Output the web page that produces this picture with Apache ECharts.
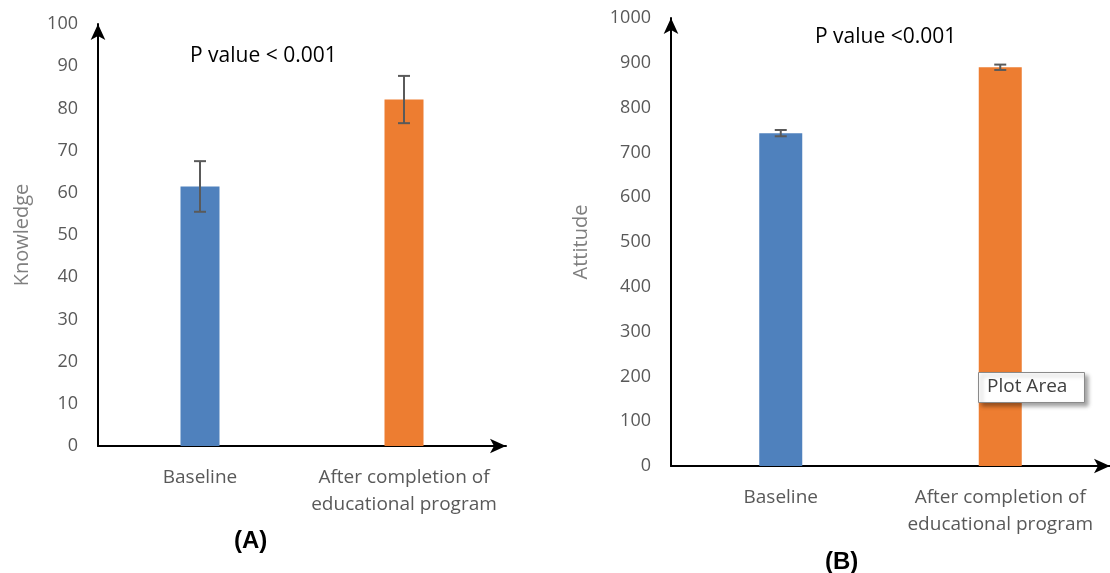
<!DOCTYPE html>
<html>
<head>
<meta charset="utf-8">
<script src="https://cdn.jsdelivr.net/npm/echarts@6/dist/echarts.min.js"></script>
<style>
  html, body { margin: 0; padding: 0; background: #fff; }
  #chart { width: 1110px; height: 573px; }
</style>
</head>
<body>
<div id="chart"></div>
<script>
// Categories shared by both panels
const categories = ['Baseline', 'After completion of\neducational program'];

// Panel A: knowledge scores (mean and error)
const knowledgeMeans = [61.5, 82.1];
const knowledgeErrors = [6.0, 5.6];
const knowledgeTicks = { min: 0, max: 100, interval: 10 };

// Panel B: attitude scores (mean and error)
const attitudeMeans = [743, 890];
const attitudeErrors = [7, 6];
const attitudeTicks = { min: 0, max: 1000, interval: 100 };

const barColors = ['#4f81bd', '#ed7d31'];
const FONT = 'Open Sans';
const GREY = '#595959';

function errorData(means, errs) {
  return means.map((m, i) => [i, m - errs[i], m + errs[i]]);
}

function renderError(params, api) {
  const x = api.value(0);
  const lo = api.coord([x, api.value(1)]);
  const hi = api.coord([x, api.value(2)]);
  const half = 6;
  const style = { stroke: '#5a5a5a', lineWidth: 2 };
  return {
    type: 'group',
    children: [
      { type: 'line', shape: { x1: hi[0], y1: hi[1], x2: lo[0], y2: lo[1] }, style },
      { type: 'line', shape: { x1: hi[0] - half, y1: hi[1], x2: hi[0] + half, y2: hi[1] }, style },
      { type: 'line', shape: { x1: lo[0] - half, y1: lo[1], x2: lo[0] + half, y2: lo[1] }, style }
    ]
  };
}

function xAxisFor(gridIndex) {
  return {
    type: 'category',
    gridIndex,
    data: categories,
    axisLine: { show: true, symbol: ['none', 'arrow'], symbolSize: [11, 16], lineStyle: { color: '#000', width: 2 } },
    axisTick: { show: false },
    axisLabel: { color: GREY, fontFamily: FONT, fontSize: 19, lineHeight: 27, margin: 18, interval: 0 }
  };
}

function yAxisFor(gridIndex, ticks, name, nameGap) {
  return {
    type: 'value',
    gridIndex,
    min: ticks.min, max: ticks.max, interval: ticks.interval,
    name, nameLocation: 'middle', nameGap,
    nameTextStyle: { color: '#7f7f7f', fontFamily: FONT, fontSize: 20 },
    axisLine: { show: true, symbol: ['none', 'arrow'], symbolSize: [11, 16], lineStyle: { color: '#000', width: 2 } },
    axisTick: { show: false },
    splitLine: { show: false },
    axisLabel: { color: GREY, fontFamily: FONT, fontSize: 18, margin: 20, formatter: v => String(v) }
  };
}

const chart = echarts.init(document.getElementById('chart'), null, { renderer: 'canvas' });

chart.setOption({
  animation: false,
  backgroundColor: '#fff',
  title: [
    { text: 'P value < 0.001', left: 185, top: 41, textStyle: { fontFamily: FONT, fontSize: 21, fontWeight: 'normal', color: '#000' } },
    { text: 'P value <0.001', left: 810, top: 22, textStyle: { fontFamily: FONT, fontSize: 21, fontWeight: 'normal', color: '#000' } },
    { text: '(A)', left: 229, top: 524, textStyle: { fontFamily: 'Liberation Sans', fontSize: 24, fontWeight: 'bold', color: '#000' } },
    { text: '(B)', left: 820, top: 545, textStyle: { fontFamily: 'Liberation Sans', fontSize: 24, fontWeight: 'bold', color: '#000' } }
  ],
  grid: [
    { left: 98, top: 24, width: 408, height: 422 },
    { left: 671, top: 18, width: 446, height: 448 }
  ],
  xAxis: [xAxisFor(0), xAxisFor(1)],
  yAxis: [
    yAxisFor(0, knowledgeTicks, 'Knowledge', 66),
    yAxisFor(1, attitudeTicks, 'Attitude', 80)
  ],
  series: [
    {
      type: 'bar', xAxisIndex: 0, yAxisIndex: 0, barWidth: 39,
      data: knowledgeMeans.map((v, i) => ({ value: v, itemStyle: { color: barColors[i] } }))
    },
    {
      type: 'custom', xAxisIndex: 0, yAxisIndex: 0, z: 5,
      data: errorData(knowledgeMeans, knowledgeErrors), renderItem: renderError
    },
    {
      type: 'bar', xAxisIndex: 1, yAxisIndex: 1, barWidth: 43,
      data: attitudeMeans.map((v, i) => ({ value: v, itemStyle: { color: barColors[i] } }))
    },
    {
      type: 'custom', xAxisIndex: 1, yAxisIndex: 1, z: 5,
      data: errorData(attitudeMeans, attitudeErrors), renderItem: renderError
    }
  ],
  graphic: [
    {
      type: 'rect', left: 978, top: 372, z: 100,
      shape: { width: 106, height: 30 },
      style: { fill: '#fff', stroke: '#8a8a8a', lineWidth: 1, shadowBlur: 4, shadowOffsetX: 3, shadowOffsetY: 3, shadowColor: 'rgba(0,0,0,0.35)' }
    },
    {
      type: 'text', left: 987, top: 377, z: 101,
      style: { text: 'Plot Area', fill: '#404040', font: '19px "Open Sans"' }
    }
  ]
});
</script>
</body>
</html>
